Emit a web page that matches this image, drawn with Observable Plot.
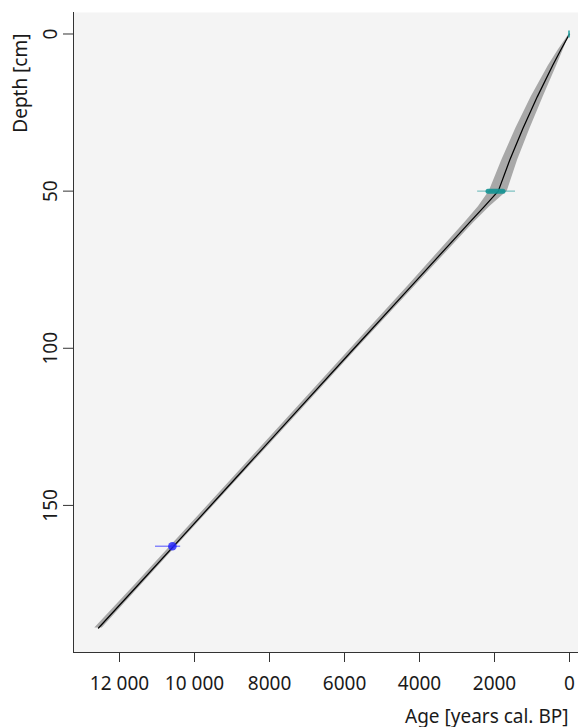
<!DOCTYPE html>
<html>
<head>
<meta charset="utf-8">
<script src="https://cdn.jsdelivr.net/npm/d3@7"></script>
<script src="https://cdn.jsdelivr.net/npm/@observablehq/plot@0.6"></script>
<style>
  html, body { margin: 0; padding: 0; background: #fff; }
  #chart svg { display: block; }
</style>
</head>
<body>
<div id="chart"></div>
<script>
// Age-depth model (depth in cm, age in years cal. BP)
const depths  = [0, 5, 10, 20, 30, 40, 50, 55, 60, 80, 100, 120, 140, 160, 175, 189];
const ageMean = [0, 230, 450, 860, 1240, 1590, 1900, 2280, 2670, 4200, 5740, 7270, 8800, 10330, 11480, 12560];
const ageMin  = [-5, 165, 340, 700, 1050, 1380, 1660, 2130, 2550, 4105, 5655, 7185, 8720, 10250, 11395, 12460];
const ageMax  = [5, 295, 560, 1020, 1430, 1800, 2140, 2430, 2790, 4295, 5825, 7355, 8880, 10410, 11565, 12660];

// Dated samples
const dateDepth  = [0, 50, 163];
const dateAge    = [0, 1950, 10590];
const dateErrLo  = [-25, 1440, 10370];
const dateErrHi  = [25, 2450, 11040];
const dateCalLo  = [-25, 1760, 10560];
const dateCalHi  = [25, 2160, 10620];
const dateType   = ["surface", "teal", "blue"];

// Axes
const xTicks = [12000, 10000, 8000, 6000, 4000, 2000, 0];
const yTicks = [0, 50, 100, 150];
const xDomain = [13227, -240];
const yDomain = [-6.84, 196.8];
const xTitle = "Age [years cal. BP]";
const yTitle = "Depth [cm]";

const model = depths.map((d, i) => ({depth: d, mean: ageMean[i], lo: ageMin[i], hi: ageMax[i]}));
const dates = dateDepth.map((d, i) => ({depth: d, age: dateAge[i], errLo: dateErrLo[i], errHi: dateErrHi[i], calLo: dateCalLo[i], calHi: dateCalHi[i], type: dateType[i]}));
const teal = dates.filter(d => d.type === "teal");
const surface = dates.filter(d => d.type === "surface");
const blue = dates.filter(d => d.type === "blue");

const fmt = d => d >= 10000 ? d3.format(",")(d).replace(",", " ") : String(d);
const FS = 19;

const chart = Plot.plot({
  width: 578,
  height: 727,
  marginLeft: 73,
  marginRight: 0,
  marginTop: 12,
  marginBottom: 75,
  style: {fontFamily: "'Noto Sans', sans-serif", fontSize: FS + "px", color: "#1a1a1a", background: "#fff"},
  x: {domain: xDomain, axis: null},
  y: {domain: yDomain, reverse: true, axis: null},
  marks: [
    Plot.frame({fill: "#f4f4f4", stroke: null}),
    Plot.areaX(model, {y: "depth", x1: "lo", x2: "hi", fill: "#a8a8a8"}),
    Plot.line(model, {x: "mean", y: "depth", stroke: "#000", strokeWidth: 1.25}),
    // error bars
    Plot.ruleY(teal, {y: "depth", x1: "errLo", x2: "errHi", stroke: "#1e9b9b", strokeOpacity: 0.55, strokeWidth: 1.3}),
    Plot.ruleY(teal, {y: "depth", x1: "calLo", x2: "calHi", stroke: "#139494", strokeOpacity: 0.9, strokeWidth: 5, strokeLinecap: "round"}),
    Plot.ruleY(surface, {y: "depth", x1: "calLo", x2: "calHi", stroke: "#2aa5a5", strokeOpacity: 0.85, strokeWidth: 7}),
    Plot.ruleY(blue, {y: "depth", x1: "errLo", x2: "errHi", stroke: "#3b3bff", strokeOpacity: 0.6, strokeWidth: 1.5}),
    Plot.dot(blue, {x: "age", y: "depth", r: 4.3, fill: "#2020ff", fillOpacity: 0.8, stroke: null}),
    // axis lines
    Plot.ruleX([xDomain[0]], {stroke: "#333", strokeWidth: 1}),
    Plot.ruleY([yDomain[1]], {stroke: "#333", strokeWidth: 1}),
    // x axis
    Plot.axisX({ticks: xTicks, tickSize: 10, tickPadding: 14, tickFormat: fmt, label: null, fontSize: FS, stroke: "#333", fill: "#1a1a1a"}),
    Plot.text([xTitle], {frameAnchor: "bottom-right", text: d => d, textAnchor: "end", lineAnchor: "bottom", dx: -10, dy: 70, fontSize: FS, fill: "#1a1a1a"}),
    // y axis
    Plot.axisY({ticks: yTicks, tickSize: 10, tickFormat: () => "", label: null, stroke: "#333"}),
    Plot.text(yTicks, {y: d => d, text: d => String(d), frameAnchor: "left", dx: -23, rotate: -90, textAnchor: "middle", lineAnchor: "middle", fontSize: FS, fill: "#1a1a1a"}),
    Plot.text([yTitle], {frameAnchor: "top-left", text: d => d, rotate: -90, textAnchor: "end", lineAnchor: "middle", dx: -53, dy: 21, fontSize: FS, fill: "#1a1a1a"})
  ]
});
document.getElementById("chart").appendChild(chart);
</script>
</body>
</html>
